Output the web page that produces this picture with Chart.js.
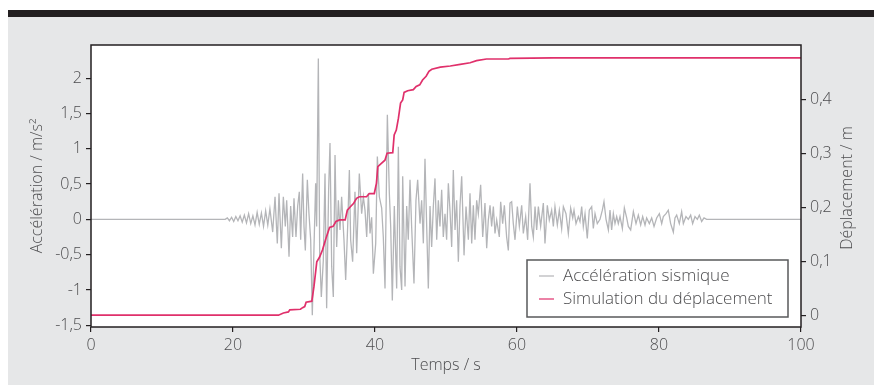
<!DOCTYPE html>
<html>
<head>
<meta charset="utf-8">
<script src="https://cdn.jsdelivr.net/npm/chart.js@4/dist/chart.umd.min.js"></script>
<style>
  body { margin: 0; background: #fff; }
  #bar { position: absolute; left: 8px; top: 10px; width: 866px; height: 7px; background: #231f20; }
  #panel { position: absolute; left: 8px; top: 17px; width: 866px; height: 368px; background: #e6e7e8; }
  #wrap { position: absolute; left: 0; top: 0; width: 874px; height: 385px; }
</style>
</head>
<body>
<div id="bar"></div>
<div id="panel"></div>
<div id="wrap"><canvas id="chart" width="874" height="385"></canvas></div>
<script>
// Accélération sismique (m/s²)
const accelTime = [
  0, 18.9, 19.2, 19.5, 19.8, 20.1, 20.4, 20.7, 21.0, 21.3, 21.6, 21.9, 22.2, 22.5, 22.8, 23.1, 23.4, 23.7, 24.0, 24.3, 24.6, 24.9, 25.2,
  25.59, 25.92, 26.24, 26.48, 26.81, 27.09, 27.37, 27.56, 27.89, 28.12, 28.40, 28.59, 28.87, 29.11, 29.34, 29.53, 29.81, 30.0,
  30.19, 30.47, 30.70, 30.94, 31.17, 31.41, 31.64, 31.78, 32.02, 32.21, 32.44, 32.72, 32.96, 33.19, 33.47, 33.66, 33.90, 34.13,
  34.37, 34.60, 34.84, 35.07, 35.30, 35.63, 35.87, 36.15, 36.39,
  36.57, 36.85, 37.18, 37.42, 37.79, 38.12, 38.36, 38.59, 38.83, 39.07, 39.30, 39.53, 39.77, 40.10, 40.33, 40.61, 40.94, 41.17,
  41.41, 41.74, 42.02, 42.21, 42.44, 42.72, 43.05, 43.29, 43.52, 43.76, 43.90, 44.23, 44.46, 44.69, 44.93, 45.16, 45.49, 45.77,
  46.01, 46.34, 46.57, 46.81, 47.04, 47.28, 47.51, 47.75, 47.98, 48.22, 48.45, 48.69, 48.92, 49.15, 49.39, 49.62, 49.86, 50.09,
  50.33, 50.56, 50.80, 51.03, 51.27, 51.50, 51.74, 51.97, 52.21,
  52.54, 52.82, 53.15, 53.38, 53.62, 53.85, 54.08, 54.32, 54.55, 54.88, 55.17, 55.49, 55.73, 55.96, 56.20, 56.43, 56.67, 56.90,
  57.14, 57.51, 57.70, 57.98, 58.22, 58.54, 58.78, 59.01, 59.25, 59.48, 59.72, 60.05, 60.33, 60.66, 60.89, 61.22, 61.50, 61.83,
  62.07, 62.30, 62.54, 62.77, 63.01, 63.33, 63.71, 63.94, 64.27, 64.55, 64.88, 65.12, 65.35, 65.68, 65.96, 66.29, 66.53, 66.90,
  67.23, 67.56, 67.85, 68.03, 68.31, 68.64, 68.87,
  69.11, 69.34, 69.58, 69.90, 70.18, 70.52, 70.75, 70.99, 71.31, 71.69, 72.02, 72.25, 72.54, 72.87, 73.10, 73.33, 73.57, 73.80,
  74.04, 74.27, 74.51, 74.84, 75.12, 75.45, 75.68, 76.01, 76.39, 76.76, 77.09, 77.42, 77.70, 78.03, 78.26, 78.64, 78.97, 79.30,
  79.67, 80.05, 80.38, 80.61, 80.99, 81.31, 81.64, 82.02, 82.25, 82.49, 82.86, 83.19, 83.43, 83.80, 84.13, 84.46, 84.74, 85.07,
  85.40, 85.68, 86.01, 86.34, 86.71, 100
];
const accelValue = [
  0, 0, 0.02, -0.02, 0.03, -0.03, 0.04, -0.02, 0.05, -0.04, 0.06, -0.05, 0.08, -0.06, 0.05, -0.08, 0.1, -0.07, 0.09, -0.1, 0.12, -0.08, 0.15,
  -0.18, 0.32, -0.34, 0.37, -0.41, 0.32, -0.10, 0.27, -0.53, 0.19, -0.25, 0.30, -0.25, 0.19, 0.39, -0.29, 0.65, -0.10,
  -0.44, 0.56, 0.08, -0.29, -1.36, -0.39, 0.51, -0.10, 2.28, -0.48, -1.10, -0.58, 0.65, -1.26, 0.42, 1.08, -0.67, -1.10,
  0.91, -0.39, 0.27, -0.15, 0.32, -0.29, -0.86, -0.10, 0.70,
  -0.29, -0.60, 0.39, -0.48, 0.65, 0.08, 0.32, 0.13, -0.25, 0.37, -0.20, 0.03, -0.77, -0.34, 0.89, 0.32, 0.16, -0.25,
  -0.98, 1.48, 0.37, -0.10, -1.15, 0.19, -0.98, 1.03, -0.67, -1.00, 0.61, -0.95, 0.19, -0.29, 0.56, -0.10, -0.91, 0.27,
  0.56, -0.06, 0.27, -0.34, 0.86, -0.10, -0.98, 0.19, -0.39, 0.19, 0.58, -0.29, 0.27, -0.10, 0.42, -0.25, 0.08, -0.29,
  0.51, 0.13, -0.39, 0.70, -0.15, 0.27, -0.60, 0.19, 0.61,
  -0.51, 0.18, -0.29, 0.37, -0.34, 0.20, -0.29, 0.27, 0.08, 0.49, -0.25, 0.23, -0.41, -0.01, 0.20, -0.10, 0.18, -0.20,
  -0.01, -0.25, 0.25, -0.06, 0.20, -0.25, -0.44, 0.23, 0.25, -0.06, -0.29, 0.18, -0.10, 0.20, -0.20, 0.04, -0.29, 0.51,
  -0.10, -0.25, 0.18, -0.15, 0.18, -0.10, 0.23, -0.34, 0.20, -0.01, 0.13, -0.10, 0.18, -0.08, 0.13, -0.13, 0.18, 0.08,
  -0.20, 0.16, 0.02, 0.13, -0.06, 0.04, -0.03,
  0.18, -0.10, 0.08, -0.27, 0.13, 0.18, -0.13, 0.08, -0.06, 0.0, 0.13, 0.25, 0.0, -0.15, 0.13, -0.15, 0.08, -0.06,
  0.04, -0.06, 0.04, -0.13, 0.16, 0.02, -0.10, -0.15, 0.11, -0.06, 0.06, -0.08, 0.04, -0.08, 0.02, -0.06, 0.02, -0.10,
  0.02, 0.08, -0.06, 0.04, 0.08, 0.13, -0.06, -0.18, 0.02, 0.06, -0.06, 0.11, -0.06, 0.04, 0.0, 0.06, -0.06, 0.04,
  0.0, 0.06, -0.03, 0.02, 0.0, 0
];

// Simulation du déplacement (m)
const dispTime = [
  0, 26.4, 27.1, 27.8, 28.0, 29.5, 29.8, 30.1, 30.3, 31.1, 31.4, 31.8, 32.2, 32.6, 33.1, 33.6, 34.1, 34.5, 35.0, 35.8,
  36.1, 36.5, 37.0, 37.4, 37.8, 38.8, 39.2, 39.9, 40.2, 40.4, 40.9, 41.4, 41.7, 42.5, 42.7, 43.0, 43.3, 43.6, 43.9, 44.1,
  44.6, 45.4, 45.8, 46.3, 46.7, 47.2, 47.6, 48.0, 49.2, 50.6, 52.0, 53.4, 54.3, 55.7, 58.8, 59.0, 65.1, 72.2, 79.2, 100
];
const dispValue = [
  0, 0, 0.004, 0.006, 0.010, 0.011, 0.014, 0.016, 0.024, 0.026, 0.053, 0.099, 0.108, 0.121, 0.143, 0.163, 0.165, 0.174, 0.177, 0.177,
  0.195, 0.201, 0.208, 0.217, 0.220, 0.220, 0.226, 0.226, 0.245, 0.276, 0.282, 0.288, 0.301, 0.302, 0.335, 0.344, 0.366, 0.394, 0.400, 0.414,
  0.417, 0.419, 0.425, 0.428, 0.437, 0.444, 0.453, 0.457, 0.461, 0.463, 0.466, 0.469, 0.473, 0.476, 0.476, 0.477, 0.478, 0.478, 0.478, 0.478
];

const xTicks = [0, 20, 40, 60, 80, 100];
const accelTicks = [-1.5, -1, -0.5, 0, 0.5, 1, 1.5, 2];
const dispTicks = [0, 0.1, 0.2, 0.3, 0.4];

const textColor = "#4d4d4f";
const frameColor = "#231f20";
const font = { family: "'Open Sans', Lato, sans-serif", size: 16, weight: 300 };
const legendFont = { ...font, size: 17 };
const frFormat = (v) => String(v).replace(".", ",");

// white plot area and frame on all four sides
const frame = {
  id: "frame",
  beforeDraw(chart) {
    const { ctx, chartArea: a } = chart;
    ctx.save();
    ctx.fillStyle = "#fff";
    ctx.fillRect(a.left, a.top, a.right - a.left, a.bottom - a.top);
    ctx.restore();
  },
  afterDatasetsDraw(chart) {
    const { ctx, chartArea: a } = chart;
    ctx.save();
    ctx.strokeStyle = frameColor;
    ctx.lineWidth = 1.5;
    ctx.strokeRect(a.left, a.top, a.right - a.left, a.bottom - a.top);
    ctx.restore();
  },
};

// right-hand title reads bottom to top, like the left one
const rightTitle = {
  id: "rightTitle",
  afterDraw(chart) {
    const { ctx, chartArea: a } = chart;
    ctx.save();
    ctx.translate(a.right + 46, (a.top + a.bottom) / 2 + 2);
    ctx.rotate(-Math.PI / 2);
    ctx.font = `${font.weight} ${font.size}px ${font.family}`;
    ctx.fillStyle = textColor;
    ctx.textAlign = "center";
    ctx.textBaseline = "middle";
    ctx.fillText("Déplacement / m", 0, 0);
    ctx.restore();
  },
};

// boxed legend in the lower right of the plot
const legendBox = {
  id: "legendBox",
  afterDraw(chart) {
    const { ctx, chartArea: a } = chart;
    const w = 261, h = 57;
    const x = a.right - 13 - w, y = a.bottom - 10 - h;
    ctx.save();
    ctx.fillStyle = "#fff";
    ctx.fillRect(x, y, w, h);
    ctx.strokeStyle = "#58595b";
    ctx.lineWidth = 1.5;
    ctx.strokeRect(x, y, w, h);
    ctx.font = `${legendFont.weight} ${legendFont.size}px ${legendFont.family}`;
    ctx.textBaseline = "middle";
    chart.data.datasets.forEach((ds, i) => {
      const ly = y + 16 + i * 23;
      ctx.strokeStyle = ds.borderColor;
      ctx.lineWidth = 1.2;
      ctx.beginPath();
      ctx.moveTo(x + 12, ly);
      ctx.lineTo(x + 27, ly);
      ctx.stroke();
      ctx.fillStyle = textColor;
      ctx.fillText(ds.label, x + 36, ly);
    });
    ctx.restore();
  },
};

const tickGrid = { drawOnChartArea: false, drawTicks: true, tickLength: 5, color: frameColor, lineWidth: 1.2 };

new Chart(document.getElementById("chart"), {
  type: "line",
  data: {
    datasets: [
      {
        label: "Accélération sismique",
        data: accelTime.map((t, i) => ({ x: t, y: accelValue[i] })),
        borderColor: "#b4b5b8",
        borderWidth: 1.3,
        pointRadius: 0,
        yAxisID: "y",
        order: 2,
      },
      {
        label: "Simulation du déplacement",
        data: dispTime.map((t, i) => ({ x: t, y: dispValue[i] })),
        borderColor: "#e0306b",
        borderWidth: 1.7,
        pointRadius: 0,
        yAxisID: "y1",
        order: 1,
      },
    ],
  },
  options: {
    responsive: false,
    animation: false,
    layout: { padding: { top: 45, left: 28, right: 12, bottom: 10 } },
    plugins: { legend: { display: false }, tooltip: { enabled: false } },
    scales: {
      x: {
        type: "linear",
        min: 0,
        max: 100,
        afterBuildTicks: (s) => { s.ticks = xTicks.map((v) => ({ value: v })); },
        afterFit: (s) => { s.height = 48; },
        grid: tickGrid,
        border: { display: false },
        ticks: { color: textColor, font, padding: 4, maxRotation: 0 },
        title: { display: true, text: "Temps / s", color: textColor, font, padding: { top: 0, bottom: 0 } },
      },
      y: {
        position: "left",
        min: -1.525,
        max: 2.47,
        afterBuildTicks: (s) => { s.ticks = accelTicks.map((v) => ({ value: v })); },
        afterFit: (s) => { s.width = 63; },
        grid: tickGrid,
        border: { display: false },
        ticks: { color: textColor, font, padding: 4, callback: (v) => frFormat(v) },
        title: { display: true, text: "Accélération / m/s²", color: textColor, font, padding: 0 },
      },
      y1: {
        position: "right",
        min: -0.022,
        max: 0.502,
        afterBuildTicks: (s) => { s.ticks = dispTicks.map((v) => ({ value: v })); },
        afterFit: (s) => { s.width = 61; },
        grid: tickGrid,
        border: { display: false },
        ticks: { color: textColor, font, padding: 4, callback: (v) => frFormat(v) },
      },
    },
  },
  plugins: [frame, rightTitle, legendBox],
});
</script>
</body>
</html>
